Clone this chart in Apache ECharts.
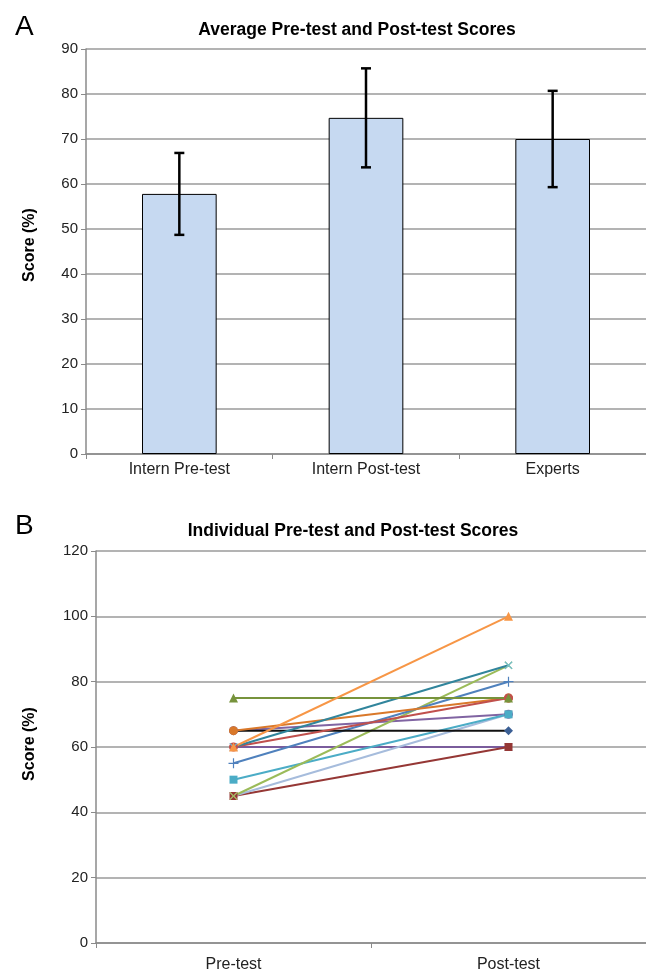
<!DOCTYPE html>
<html>
<head>
<meta charset="utf-8">
<script src="https://cdn.jsdelivr.net/npm/echarts@6/dist/echarts.min.js"></script>
<style>
html,body{margin:0;padding:0;background:#fff;}
#chart{width:646px;height:973px;}
</style>
</head>
<body>
<div id="chart"></div>
<script>
// ---- Panel A data ----
var barCategories = ['Intern Pre-test', 'Intern Post-test', 'Experts'];
var barMeans = [57.8, 74.7, 70.0];
var barErrors = [9.1, 11.0, 10.7];
var yTicksA = [0, 10, 20, 30, 40, 50, 60, 70, 80, 90];

// ---- Panel B data ----
var testCategories = ['Pre-test', 'Post-test'];
var orangeScores   = [60, 100];
var tealScores     = [60, 85];
var greenScores    = [45, 85];
var oliveScores    = [75, 75];
var blackScores    = [65, 65];
var purpleFlat     = [60, 60];
var darkRedScores  = [45, 60];
var redScores      = [60, 75];
var brownScores    = [65, 75];
var purpleScores   = [65, 70];
var blueScores     = [55, 80];
var aquaScores     = [50, 70];
var lavenderScores = [45, 70];
var yTicksB = [0, 20, 40, 60, 80, 100, 120];

var FONT = '"Liberation Sans", Arial, sans-serif';
var PLUS = 'path://M4.4,0H5.6V4.4H10V5.6H5.6V10H4.4V5.6H0V4.4H4.4Z';
var XMARK = 'path://M0,1L1,0L5,4L9,0L10,1L6,5L10,9L9,10L5,6L1,10L0,9L4,5Z';

function lineSeries(name, data, color, symbol, markerColor, size) {
  return {
    name: name, type: 'line', xAxisIndex: 1, yAxisIndex: 1,
    data: data, symbol: symbol, symbolSize: size || 8, showAllSymbol: true,
    lineStyle: {color: color, width: 2},
    itemStyle: {color: markerColor || color},
    animation: false
  };
}

var errData = barMeans.map(function (m, i) { return [i, m - barErrors[i], m + barErrors[i]]; });

var chart = echarts.init(document.getElementById('chart'), null, {renderer: 'canvas'});
var axisLabelStyle = {color: '#222', fontSize: 15, fontFamily: FONT};
var catLabelStyle = {color: '#222', fontSize: 16, fontFamily: FONT};
var gridLine = {show: true, lineStyle: {color: '#9a9a9a', width: 1.5}};
var axisLine = {show: true, lineStyle: {color: '#8a8a8a', width: 1.5}};

chart.setOption({
  animation: false,
  title: [
    {text: 'A', left: 10, top: 8, textStyle: {fontSize: 28, fontWeight: 'normal', color: '#000', fontFamily: FONT}},
    {text: 'Average Pre-test and Post-test Scores', left: 352, top: 16, textAlign: 'center',
      textStyle: {fontSize: 17.5, fontWeight: 'bold', color: '#000', fontFamily: FONT}},
    {text: 'B', left: 10, top: 507, textStyle: {fontSize: 28, fontWeight: 'normal', color: '#000', fontFamily: FONT}},
    {text: 'Individual Pre-test and Post-test Scores', left: 348, top: 517, textAlign: 'center',
      textStyle: {fontSize: 17.5, fontWeight: 'bold', color: '#000', fontFamily: FONT}}
  ],
  graphic: [
    {type: 'text', x: 30, y: 245, rotation: Math.PI / 2,
      style: {text: 'Score (%)', textAlign: 'center', textVerticalAlign: 'middle',
        font: 'bold 16px ' + FONT, fill: '#000'}},
    {type: 'text', x: 30, y: 744, rotation: Math.PI / 2,
      style: {text: 'Score (%)', textAlign: 'center', textVerticalAlign: 'middle',
        font: 'bold 16px ' + FONT, fill: '#000'}}
  ],
  grid: [
    {left: 86, top: 49, right: -5, height: 405},
    {left: 96, top: 551, right: -2, height: 392}
  ],
  xAxis: [
    {type: 'category', gridIndex: 0, data: barCategories,
      axisLine: axisLine, axisTick: {show: true, length: 5, lineStyle: {color: '#8a8a8a'}},
      axisLabel: Object.assign({margin: 8}, catLabelStyle)},
    {type: 'category', gridIndex: 1, data: testCategories, boundaryGap: true,
      axisLine: axisLine, axisTick: {show: true, length: 5, lineStyle: {color: '#8a8a8a'}},
      axisLabel: Object.assign({margin: 14}, catLabelStyle)}
  ],
  yAxis: [
    {type: 'value', gridIndex: 0, min: yTicksA[0], max: yTicksA[yTicksA.length - 1], interval: 10,
      axisLine: axisLine, axisTick: {show: true, length: 5, lineStyle: {color: '#8a8a8a'}},
      axisLabel: Object.assign({margin: 8}, axisLabelStyle), splitLine: gridLine},
    {type: 'value', gridIndex: 1, min: yTicksB[0], max: yTicksB[yTicksB.length - 1], interval: 20,
      axisLine: axisLine, axisTick: {show: true, length: 5, lineStyle: {color: '#8a8a8a'}},
      axisLabel: Object.assign({margin: 8}, axisLabelStyle), splitLine: gridLine}
  ],
  series: [
    {type: 'bar', xAxisIndex: 0, yAxisIndex: 0, data: barMeans, barCategoryGap: '60%',
      itemStyle: {color: '#c6d9f1', borderColor: '#000', borderWidth: 1}},
    {type: 'custom', xAxisIndex: 0, yAxisIndex: 0, data: errData, z: 10,
      renderItem: function (params, api) {
        var x = api.value(0);
        var lo = api.coord([x, api.value(1)]);
        var hi = api.coord([x, api.value(2)]);
        var half = 5;
        var st = {stroke: '#000', lineWidth: 2.5};
        return {type: 'group', children: [
          {type: 'line', shape: {x1: lo[0], y1: lo[1], x2: hi[0], y2: hi[1]}, style: st},
          {type: 'line', shape: {x1: lo[0] - half, y1: lo[1], x2: lo[0] + half, y2: lo[1]}, style: st},
          {type: 'line', shape: {x1: hi[0] - half, y1: hi[1], x2: hi[0] + half, y2: hi[1]}, style: st}
        ]};
      }},
    lineSeries('s1', purpleFlat, '#7a5c9c', XMARK, '#5a78b0', 8),
    lineSeries('s9', purpleScores, '#8064a2', 'circle', '#8064a2', 9),
    lineSeries('s2', darkRedScores, '#953735', 'rect', '#953735', 8),
    lineSeries('s3', lavenderScores, '#a6bcdc', XMARK, '#c49090', 8),
    lineSeries('s4', aquaScores, '#4bacc6', 'rect', '#4bacc6', 8),
    lineSeries('s5', greenScores, '#9bbb59', XMARK, '#9bbb59', 8),
    lineSeries('s6', blueScores, '#4f81bd', PLUS, '#4f81bd', 10),
    lineSeries('s7', blackScores, '#111111', 'diamond', '#3b5f95', 9),
    lineSeries('s10', brownScores, '#d9782a', 'circle', '#d9782a', 9),
    lineSeries('s8', redScores, '#c0504d', 'circle', '#c0504d', 9),
    lineSeries('s11', tealScores, '#31859c', XMARK, '#6fbdd1', 8),
    lineSeries('s12', oliveScores, '#77933c', 'triangle', '#77933c', 9),
    lineSeries('s13', orangeScores, '#f79646', 'triangle', '#f79646', 9)
  ]
});
</script>
</body>
</html>
